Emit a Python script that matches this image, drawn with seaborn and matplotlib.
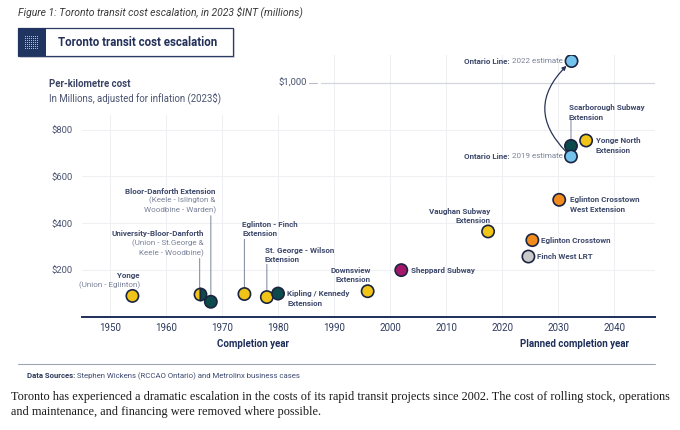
import matplotlib
matplotlib.use('Agg')
import matplotlib.pyplot as plt
import seaborn as sns
import pandas as pd
from matplotlib.patches import Rectangle, FancyArrowPatch

# values: per-km cost, millions of 2023 dollars
projects = ['Yonge', 'University-Bloor-Danforth', 'Bloor-Danforth Extension',
            'Eglinton - Finch Extension', 'St. George - Wilson Extension',
            'Kipling / Kennedy Extension', 'Downsview Extension', 'Sheppard Subway',
            'Vaughan Subway Extension', 'Finch West LRT', 'Eglinton Crosstown',
            'Eglinton Crosstown West Extension', 'Scarborough Subway Extension',
            'Ontario Line 2019', 'Ontario Line 2022', 'Yonge North Extension']
years = [1954, 1966, 1968, 1974, 1978, 1980, 1996, 2002, 2017.5, 2024.7, 2025.4,
         2030.2, 2032.3, 2032.3, 2032.4, 2035]
costs = [90, 100, 65, 98, 85, 100, 110, 200, 365, 258, 328, 500, 730, 685, 1092, 753]
lines = ['Line 1', 'Line 1+2', 'Line 2', 'Line 1', 'Line 1', 'Line 2', 'Line 1', 'Line 4',
         'Line 1', 'Line 6', 'Line 5', 'Line 5', 'Line 2', 'Ontario', 'Ontario', 'Line 1']

x_ticks = [1950, 1960, 1970, 1980, 1990, 2000, 2010, 2020, 2030, 2040]
y_ticks = [200, 400, 600, 800]
y_tick_labels = ['$200', '$400', '$600', '$800']

line_colors = {'Line 1': '#F1C418', 'Line 2': '#0D4A4B', 'Line 4': '#A3176A',
               'Line 5': '#F28B1E', 'Line 6': '#C9C9C9', 'Ontario': '#74C3EC'}

df = pd.DataFrame({'project': projects, 'year': years, 'cost': costs, 'line': lines})

NAVY = '#1F2F5A'
LAB = '#3F4A6C'
SUB = '#7A8299'
EDGE = '#1B2440'
PT = 0.72          # px -> pt at 100 dpi
ROW = 9.5          # label line spacing, px

sns.set_theme(style='white')
plt.rcParams['font.family'] = ['Roboto', 'DejaVu Sans']

fig = plt.figure(figsize=(6.8, 4.3), dpi=100)

def fx(px):
    return px / 680

def fy(py):
    return 1 - py / 430

ax = fig.add_axes([fx(82), fy(317), fx(655) - fx(82), fy(54.5) - fy(317)])
ax.set_xlim(1945, 2047.3)
ax.set_ylim(0, 1120)

# grid
ax.set_axisbelow(True)
ax.set_xticks(x_ticks)
ax.set_yticks(y_ticks)
ax.set_yticklabels(y_tick_labels)
ax.grid(True, color='#EEF0F4', lw=0.8)
for s in ['left', 'top', 'right']:
    ax.spines[s].set_visible(False)
ax.spines['bottom'].set_color(NAVY)
ax.spines['bottom'].set_linewidth(1.4)
ax.tick_params(axis='x', length=0, pad=4, labelsize=7, labelcolor='#2F3B5E')
ax.tick_params(axis='y', length=5.8, width=0.8, color='#B8BDC9', direction='out',
               pad=1, labelsize=6.8, labelcolor='#4A5370')

# white panel behind the cost heading, and the $1,000 line
x_cut = 1987.6
ax.add_patch(Rectangle((1945, 862), x_cut - 1945, 400, facecolor='white',
                       edgecolor='none', zorder=1))
ax.axhline(1000, xmin=(x_cut - 1945) / (2047.3 - 1945), color='#D3D6DD', lw=0.9, zorder=1.2)
ax.plot([1985.6, 1987.0], [1000, 1000], color='#B8BDC9', lw=0.8, zorder=2)
ax.text(1985.1, 1000, '$1,000', ha='right', va='center', fontsize=6.8, color='#4A5370')

# points
main = df[df['line'] != 'Line 1+2']
sns.scatterplot(data=main, x='year', y='cost', hue='line', palette=line_colors,
                s=78, edgecolor=EDGE, linewidth=1.2, legend=False, zorder=5, ax=ax)
half = df[df['line'] == 'Line 1+2']
ax.plot(half['year'], half['cost'], ls='none', marker='o', ms=8.8, fillstyle='left',
        mfc=line_colors['Line 1'], mfcalt=line_colors['Line 2'], mec=EDGE, mew=1.2, zorder=5)
ax.set_xlabel('')
ax.set_ylabel('')

pos = dict(zip(projects, zip(years, costs)))

# labels: (dx px, dy px of first row, ha, rows)
labels = {
    'Yonge': (7.5, 20.7, 'right', [('Yonge', 1), ('(Union - Eglinton)', 0)]),
    'University-Bloor-Danforth': (4.4, 59.7, 'right', [('University-Bloor-Danforth', 1),
                                  ('(Union - St.George &', 0), ('Keele - Woodbine)', 0)]),
    'Bloor-Danforth Extension': (5, 110.7, 'right', [('Bloor-Danforth Extension', 1),
                                 ('(Keele - Islington &', 0), ('Woodbine - Warden)', 0)]),
    'Eglinton - Finch Extension': (-2, 70, 'left', [('Eglinton - Finch', 1), ('Extension', 1)]),
    'St. George - Wilson Extension': (-2.3, 47, 'left', [('St. George - Wilson', 1), ('Extension', 1)]),
    'Kipling / Kennedy Extension': (9, 0, 'left', [('Kipling / Kennedy', 1), ('Extension', 1)]),
    'Downsview Extension': (3.3, 21, 'right', [('Downsview', 1), ('Extension', 1)]),
    'Sheppard Subway': (10, 0, 'left', [('Sheppard Subway', 1)]),
    'Vaughan Subway Extension': (2.4, 20.3, 'right', [('Vaughan Subway', 1), ('Extension', 1)]),
    'Finch West LRT': (8.4, 0, 'left', [('Finch West LRT', 1)]),
    'Eglinton Crosstown': (8.7, 0, 'left', [('Eglinton Crosstown', 1)]),
    'Eglinton Crosstown West Extension': (10.7, 0, 'left', [('Eglinton Crosstown', 1),
                                          ('West Extension', 1)]),
    'Scarborough Subway Extension': (-2, 38, 'left', [('Scarborough Subway', 1), ('Extension', 1)]),
    'Yonge North Extension': (9.7, 0, 'left', [('Yonge North', 1), ('Extension', 1)]),
}
for name, (dx, dy, ha, rows) in labels.items():
    x, y = pos[name]
    for i, (txt, bold) in enumerate(rows):
        ax.annotate(txt, xy=(x, y), xytext=(dx * PT, (dy - i * ROW) * PT),
                    textcoords='offset points', ha=ha, va='center', fontsize=5.8,
                    fontweight='bold' if bold else 'normal', color=LAB if bold else SUB,
                    zorder=6)

# leader lines: (gap px, top px) above the point
leaders = {'University-Bloor-Danforth': (6, 35), 'Bloor-Danforth Extension': (6.7, 86),
           'Eglinton - Finch Extension': (6.7, 54.7), 'St. George - Wilson Extension': (6.7, 32.7),
           'Scarborough Subway Extension': (6, 26)}
for name, (gap, top) in leaders.items():
    x, y = pos[name]
    ax.annotate('', xy=(x, y), xytext=(0, top * PT), textcoords='offset points',
                arrowprops=dict(arrowstyle='-', color='#8A93A8', lw=0.8,
                                shrinkA=0, shrinkB=gap * PT), zorder=4)

# Ontario Line labels
for name, tail in [('Ontario Line 2019', ' 2019 estimate'), ('Ontario Line 2022', ' 2022 estimate')]:
    x, y = pos[name]
    t = ax.annotate(tail, xy=(x, y), xytext=(-8.6 * PT, 0), textcoords='offset points',
                    ha='right', va='center', fontsize=5.8, color=SUB, zorder=6)
    ax.annotate('Ontario Line:', xy=(0, 0.5), xycoords=t, xytext=(0, 0),
                textcoords='offset points', ha='right', va='center', fontsize=5.8,
                fontweight='bold', color=LAB, zorder=6)

arrow = FancyArrowPatch(posA=pos['Ontario Line 2019'], posB=pos['Ontario Line 2022'],
                        connectionstyle='arc3,rad=-0.55', arrowstyle='-|>', mutation_scale=6,
                        shrinkA=5, shrinkB=5, color='#2A3556', lw=0.9, zorder=4)
ax.add_patch(arrow)

# figure furniture
fig.text(fx(253), fy(344), 'Completion year', ha='center', va='center', fontsize=7,
         fontweight='bold', color=NAVY)
fig.text(fx(575), fy(344), 'Planned completion year', ha='center', va='center', fontsize=7,
         fontweight='bold', color=NAVY)
fig.text(fx(49), fy(84), 'Per-kilometre cost', ha='left', va='center', fontsize=6.9,
         fontweight='bold', color='#3A4566')
fig.text(fx(49), fy(98), 'In Millions, adjusted for inflation (2023$)', ha='left', va='center',
         fontsize=6.9, color='#4A5470')

fig.text(fx(18), fy(12), 'Figure 1: Toronto transit cost escalation, in 2023 $INT (millions)',
         ha='left', va='center', fontsize=7.5, fontstyle='italic', color='#3A3A3A')

# title box
fig.add_artist(Rectangle((fx(19.5), fy(57.5)), fx(215), fy(0) - fy(28), transform=fig.transFigure,
                         facecolor='#D9DCE3', edgecolor='none'))
fig.add_artist(Rectangle((fx(18), fy(56)), fx(215), fy(0) - fy(28), transform=fig.transFigure,
                         facecolor='white', edgecolor='#2C3B63', lw=0.9))
fig.add_artist(Rectangle((fx(18), fy(56)), fx(28), fy(0) - fy(28), transform=fig.transFigure,
                         facecolor='#1F3461', edgecolor='none'))
for i in range(7):
    for j in range(7):
        c = '#F1C418' if i == j or (i == j + 1 and i % 2) else '#8FC3EA'
        fig.add_artist(Rectangle((fx(25.2 + 2 * i), fy(48.8 - 2 * j)), fx(1.1), fy(0) - fy(1.1),
                                 transform=fig.transFigure, facecolor=c, edgecolor='none'))
fig.text(fx(58), fy(42), 'Toronto transit cost escalation', ha='left', va='center',
         fontsize=8.3, fontweight='bold', color='#23305A')

# source line and note
fig.add_artist(plt.Line2D([fx(18), fx(655)], [fy(364), fy(364)], transform=fig.transFigure,
                          color='#9EA5B5', lw=0.8))
src = fig.text(fx(27), fy(376), 'Data Sources:', ha='left', va='center', fontsize=5.6,
               fontweight='bold', color='#2F3B5E')
ax.annotate(' Stephen Wickens (RCCAO Ontario) and Metrolinx business cases', xy=(1, 0.5),
            xycoords=src, ha='left', va='center', fontsize=5.6, color='#3E4A70',
            annotation_clip=False)

serif = ['Liberation Serif', 'DejaVu Serif']
fig.text(fx(11), fy(397), 'Toronto has experienced a dramatic escalation in the costs of its rapid '
         'transit projects since 2002. The cost of rolling stock, operations',
         ha='left', va='center', fontsize=8.8, family=serif, color='#1A1A1A')
fig.text(fx(11), fy(412.5), 'and maintenance, and financing were removed where possible.',
         ha='left', va='center', fontsize=8.8, family=serif, color='#1A1A1A')

fig.savefig('out.png', dpi=100)
